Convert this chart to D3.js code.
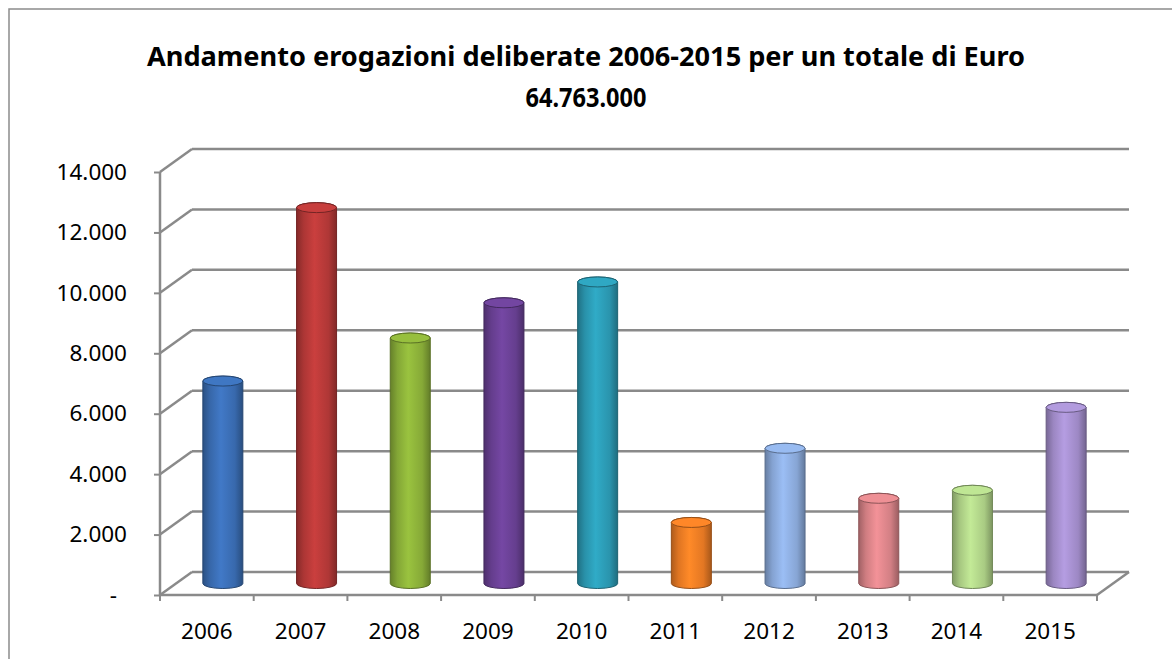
<!DOCTYPE html>
<html>
<head>
<meta charset="utf-8">
<script src="https://cdn.jsdelivr.net/npm/d3@7"></script>
<style>
	body { margin: 0; background: #fff; }
	text { font-family: "Noto Sans", "Open Sans", sans-serif; fill: #000; }
</style>
</head>
<body>
<svg id="chart" width="1172" height="659"></svg>
<script>

// erogazioni deliberate per anno (migliaia di euro)
var years = ["2006", "2007", "2008", "2009", "2010", "2011", "2012", "2013", "2014", "2015"];
var values = [6700, 12440, 8125, 9290, 9980, 2020, 4475, 2820, 3085, 5830];
var barColours = ["#3b6fb6", "#b93a39", "#8db23a", "#6b4196", "#2c9cb6",
				  "#f07e25", "#8eaee0", "#de868b", "#b2d68a", "#a690cf"];
var yTicks = [0, 2000, 4000, 6000, 8000, 10000, 12000, 14000];
var titleLines = ["Andamento erogazioni deliberate 2006-2015 per un totale di Euro",
				  "64.763.000"];


var svg = d3.select("#chart");

// profondita' della vista 3d
var depthX = 32;
var depthY = -23;

var x = d3.scaleBand()
			.domain(years)
			.range([160, 1097]);

var y = d3.scaleLinear()
			.domain([0, 14000])
			.range([595, 172]);

var itLocale = d3.formatLocale({ decimal: ",", thousands: ".", grouping: [3],
								 currency: ["€", ""] });
var fmt = itLocale.format(",");

var gridColour = "#8a8a8a";


// cornice esterna
svg.append("rect")
	.attr("x", 9)
	.attr("y", 9)
	.attr("width", 1200)
	.attr("height", 700)
	.style("fill", "none")
	.style("stroke", "#8c8c8c")
	.style("stroke-width", 1.5);


// titolo
svg.selectAll(".title")
	.data(titleLines).enter()
	.append("text")
	.attr("class", "title")
	.attr("x", 586)
	.attr("y", function(d, i) { return 66 + i * 41; })
	.attr("text-anchor", "middle")
	.style("font-weight", "bold")
	.style("font-size", "27px")
	.attr("textLength", function(d, i) { return i == 0 ? 878 : 121; })
	.attr("lengthAdjust", "spacingAndGlyphs")
	.text(function(d) { return d; });


// parete di fondo e parete sinistra
var grid = svg.append("g")
				.style("stroke", gridColour)
				.style("stroke-width", 2.5)
				.style("fill", "none");

grid.selectAll(".back")
	.data(yTicks).enter()
	.append("line")
	.attr("x1", 160 + depthX)
	.attr("x2", x.range()[1] + depthX)
	.attr("y1", function(d) { return y(d) + depthY; })
	.attr("y2", function(d) { return y(d) + depthY; });

grid.selectAll(".side")
	.data(yTicks).enter()
	.append("line")
	.attr("x1", 160)
	.attr("x2", 160 + depthX)
	.attr("y1", function(d) { return y(d); })
	.attr("y2", function(d) { return y(d) + depthY; });

// pavimento
grid.append("line")
	.attr("x1", x.range()[1])
	.attr("x2", x.range()[1] + depthX)
	.attr("y1", y(0))
	.attr("y2", y(0) + depthY);

grid.append("line")
	.attr("x1", 160)
	.attr("x2", x.range()[1])
	.attr("y1", y(0))
	.attr("y2", y(0));

grid.append("line")
	.attr("x1", 160)
	.attr("x2", 160)
	.attr("y1", y(14000))
	.attr("y2", y(0));


// assi
var yAxis = svg.append("g")
				.attr("transform", "translate(160,0)")
				.call(d3.axisLeft(y)
						.tickValues(yTicks)
						.tickSize(6)
						.tickPadding(27)
						.tickFormat(function(d) { return d == 0 ? "-" : fmt(d); }));

var xAxis = svg.append("g")
				.attr("transform", "translate(0," + y(0) + ")")
				.call(d3.axisBottom(x)
						.tickSize(0)
						.tickPadding(28));

[yAxis, xAxis].forEach(function(axis) {
	axis.select(".domain").remove();
	axis.selectAll("line")
		.style("stroke", gridColour)
		.style("stroke-width", 2);
	axis.selectAll("text")
		.style("font-size", "22.5px")
		.style("font-family", "\"Noto Sans\", sans-serif");
});

yAxis.selectAll(".tick text")
	.attr("dx", function(d) { return d == 0 ? -10 : 0; });

// tacche asse x sui bordi delle categorie
svg.append("g")
	.selectAll("line")
	.data(years.concat(["end"])).enter()
	.append("line")
	.attr("x1", function(d, i) { return 160 + i * x.step(); })
	.attr("x2", function(d, i) { return 160 + i * x.step(); })
	.attr("y1", y(0))
	.attr("y2", y(0) + 6)
	.style("stroke", gridColour)
	.style("stroke-width", 2);


// cilindri
var defs = svg.append("defs");

barColours.forEach(function(c, i) {
	var base = d3.color(c);
	var grad = defs.append("linearGradient")
					.attr("id", "cyl" + i)
					.attr("x1", "0%").attr("x2", "100%")
					.attr("y1", "0%").attr("y2", "0%");
	grad.append("stop").attr("offset", "0%").attr("stop-color", base.darker(0.9));
	grad.append("stop").attr("offset", "18%").attr("stop-color", base.darker(0.2));
	grad.append("stop").attr("offset", "45%").attr("stop-color", base.brighter(0.25));
	grad.append("stop").attr("offset", "80%").attr("stop-color", base.darker(0.15));
	grad.append("stop").attr("offset", "100%").attr("stop-color", base.darker(1.0));
});

var rx = 20;
var ry = 5;

function cylinderPath(d, i) {
	var cx = x(years[i]) + x.bandwidth() / 2 + depthX / 2;
	var yb = y(0) + depthY / 2;
	var yt = y(d) + depthY / 2;
	return "M" + (cx - rx) + "," + yt +
		   "L" + (cx - rx) + "," + yb +
		   "A" + rx + "," + ry + " 0 0 0 " + (cx + rx) + "," + yb +
		   "L" + (cx + rx) + "," + yt +
		   "A" + rx + "," + ry + " 0 0 0 " + (cx - rx) + "," + yt + "Z";
}

var bars = svg.append("g")
				.selectAll("g")
				.data(values).enter()
				.append("g");

bars.append("path")
	.attr("d", cylinderPath)
	.style("fill", function(d, i) { return "url(#cyl" + i + ")"; })
	.style("stroke", function(d, i) { return d3.color(barColours[i]).darker(1.3); })
	.style("stroke-width", 1);

bars.append("ellipse")
	.attr("cx", function(d, i) { return x(years[i]) + x.bandwidth() / 2 + depthX / 2; })
	.attr("cy", function(d) { return y(d) + depthY / 2; })
	.attr("rx", rx)
	.attr("ry", ry)
	.style("fill", function(d, i) { return d3.color(barColours[i]).brighter(0.2); })
	.style("stroke", function(d, i) { return d3.color(barColours[i]).darker(1.3); })
	.style("stroke-width", 1);

</script>
</body>
</html>
